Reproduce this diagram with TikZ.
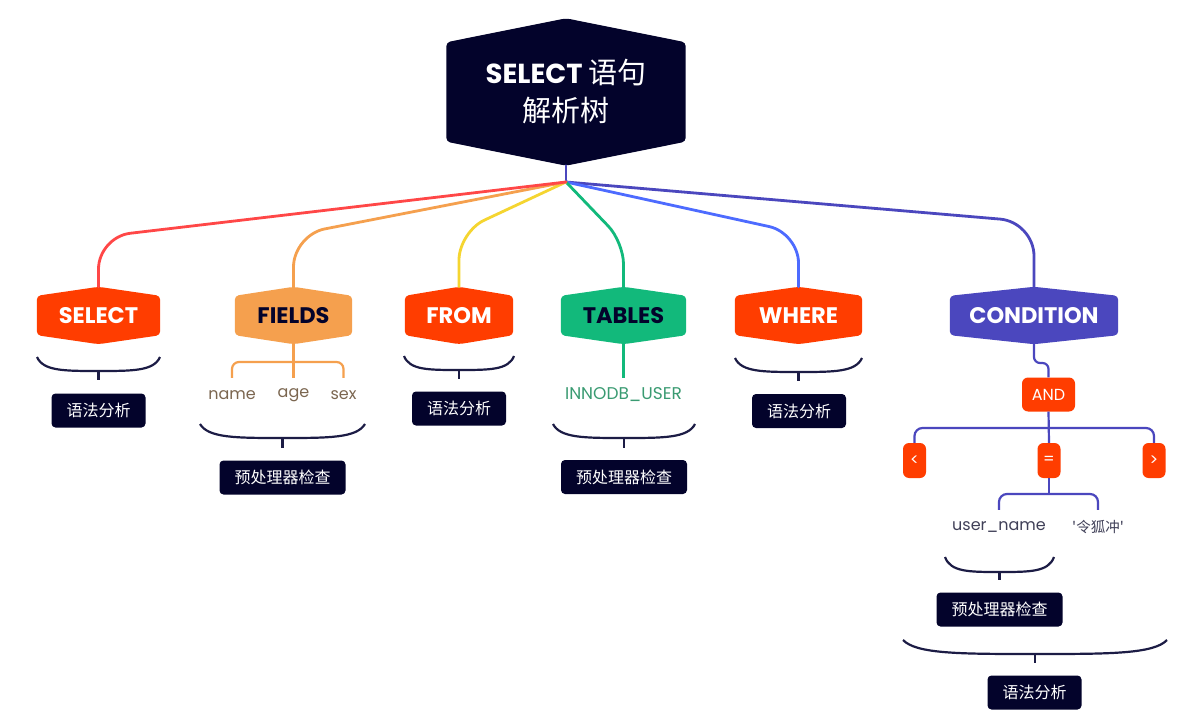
\documentclass[tikz,border=0pt]{standalone}
\usepackage{fontspec}
\setmainfont{Poppins}
\newfontfamily\cjk{Noto Sans CJK SC}
\usetikzlibrary{backgrounds}
\definecolor{navy}{HTML}{03032B}
\definecolor{nred}{HTML}{FF3D00}
\definecolor{norange}{HTML}{F5A04E}
\definecolor{ngreen}{HTML}{12B97B}
\definecolor{nindigo}{HTML}{4B47BE}
\definecolor{ered}{HTML}{FF4747}
\definecolor{eyellow}{HTML}{F5D530}
\definecolor{eblue}{HTML}{4D6BFF}
\definecolor{brn}{HTML}{7B6650}
\definecolor{leafgreen}{HTML}{3A9B72}
\definecolor{leafgrey}{HTML}{404058}
\definecolor{smilec}{HTML}{1C1C45}
\newcommand\hexfill[3]{%
  \begin{scope}[on background layer]
    \fill[#2, rounded corners=4pt] (#1.north west) -- ([yshift=#3]#1.north) -- (#1.north east) -- (#1.south east) -- ([yshift=-#3]#1.south) -- (#1.south west) -- cycle;
  \end{scope}}
% x1 x2 ytop ybot tickend
\newcommand\smilearc[5]{%
  \draw[smilestyle] (#1,#3) .. controls ({#1+0.05*(#2-#1)},#4) and ({#1+0.22*(#2-#1)},#4) .. ({(#1+#2)/2},#4)
     .. controls ({#2-0.22*(#2-#1)},#4) and ({#2-0.05*(#2-#1)},#4) .. (#2,#3);
  \draw[smilestyle] ({(#1+#2)/2},#4) -- ({(#1+#2)/2},#5);}
\begin{document}
\begin{tikzpicture}[x=1pt,y=-1pt,
  lvl/.style={minimum height=39pt, inner sep=0pt, font=\bfseries\fontsize{22.5}{22.5}\selectfont, text=white},
  lbl/.style={fill=navy, rounded corners=4pt, text=white, font=\cjk\fontsize{16}{16}\selectfont, minimum height=34pt, inner xsep=15pt, inner ysep=0pt},
  leaf/.style={inner sep=0pt, minimum height=34pt, font=\fontsize{16}{16}\selectfont},
  redbox/.style={fill=nred, rounded corners=6pt, text=white, font=\fontsize{16}{16}\selectfont, inner sep=0pt},
  eline/.style={line width=2.8pt, line cap=round},
  bline/.style={line width=2.2pt},
  smilestyle/.style={draw=smilec, line width=2.2pt}]
\begin{scope}[on background layer]
\fill[white] (0,0) rectangle (1196,714);
\end{scope}
\useasboundingbox (0,0) rectangle (1196,714);

% root
\node[font=\bfseries\fontsize{27.5}{38}\selectfont, text=white, minimum width=239pt, minimum height=99pt, inner sep=0pt, align=center] (root) at (566,92)
  {SELECT {\cjk\mdseries\fontsize{29}{38}\selectfont 语句}\\{\cjk\mdseries\fontsize{29}{38}\selectfont 解析树}};
\hexfill{root}{navy}{24pt}

% level 1
\node[lvl, minimum width=123pt] (sel) at (98.5,315.5) {SELECT};
\node[lvl, minimum width=117pt, text=navy] (fld) at (293.5,315.5) {FIELDS};
\node[lvl, minimum width=108pt] (frm) at (459,315.5) {FROM};
\node[lvl, minimum width=125pt, text=navy] (tbl) at (623.5,315.5) {TABLES};
\node[lvl, minimum width=127pt] (whr) at (798.5,315.5) {WHERE};
\node[lvl, minimum width=168pt] (cnd) at (1034,315.5) {CONDITION};
\hexfill{sel}{nred}{9pt}
\hexfill{fld}{norange}{9pt}
\hexfill{frm}{nred}{9pt}
\hexfill{tbl}{ngreen}{9pt}
\hexfill{whr}{nred}{9pt}
\hexfill{cnd}{nindigo}{9pt}

% edges from root
\coordinate (hub) at (566,182);
\draw[eline, nindigo] ([yshift=-24pt]root.south) -- (hub);
\draw[eline, nindigo, rounded corners=34pt] (hub) -- (1034,222) -- ([yshift=9pt]cnd.north);
\draw[eline, eblue, rounded corners=30pt] (hub) -- (798.5,233) -- ([yshift=9pt]whr.north);
\draw[eline, ngreen, rounded corners=22pt] (hub) -- (623.5,242) -- ([yshift=9pt]tbl.north);
\draw[eline, eyellow, rounded corners=28pt] (hub) -- (459,232) -- ([yshift=9pt]frm.north);
\draw[eline, norange, rounded corners=32pt] (hub) -- (293.5,235) -- ([yshift=9pt]fld.north);
\draw[eline, ered, rounded corners=32pt] (hub) -- (98.5,237) -- ([yshift=9pt]sel.north);

% SELECT
\smilearc{37}{160}{357}{371}{380}
\node[lbl] (l1) at (98.5,410.5) {语法分析};

% FIELDS
\node[leaf, text=brn] (fname) at (232,395) {name};
\node[leaf, text=brn] (fage) at (293.5,395) {age};
\node[leaf, text=brn] (fsex) at (343.5,395) {sex};
\coordinate (fj) at (293.5,362);
\draw[bline, norange] ([yshift=-9pt]fld.south) -- (fage.north);
\draw[bline, norange, rounded corners=7pt] (fname.north) |- (fj) -| (fsex.north);
\smilearc{200}{365}{424}{438}{448}
\node[lbl] (l2) at (282.5,477.5) {预处理器检查};

% FROM
\smilearc{404}{514}{356}{370}{379}
\node[lbl] (l3) at (459,408.5) {语法分析};

% TABLES
\node[leaf, text=leafgreen, font=\fontsize{17}{17}\selectfont] (inno) at (623.5,395) {INNODB\_USER};
\draw[bline, ngreen] ([yshift=-9pt]tbl.south) -- (inno.north);
\smilearc{553}{695}{424}{438}{448}
\node[lbl] (l4) at (624,477) {预处理器检查};

% WHERE
\smilearc{735}{862}{358}{372}{381}
\node[lbl] (l5) at (799,411) {语法分析};

% CONDITION
\node[redbox, minimum width=53pt, minimum height=34pt] (and) at (1048.5,394.5) {AND};
\draw[bline, nindigo, rounded corners=6pt] ([yshift=-9pt]cnd.south) -- (1034,363) -- (1048.5,363) -- (and.north);
\node[redbox, minimum width=23pt, minimum height=35pt] (lt) at (914.5,460.5) {<};
\node[redbox, minimum width=23pt, minimum height=35pt] (eq) at (1049,460.5) {=};
\node[redbox, minimum width=23pt, minimum height=35pt] (gt) at (1154,460.5) {>};
\coordinate (aj) at (1048.5,428);
\draw[bline, nindigo] (and.south) -- (eq.north);
\draw[bline, nindigo, rounded corners=8pt] (lt.north) |- (aj) -| (gt.north);

\node[leaf, text=leafgrey] (uname) at (999,527) {user\_name};
\node[leaf, text=leafgrey, font=\cjk\fontsize{14.5}{14.5}\selectfont] (uval) at (1098,527) {'令狐冲'};
\coordinate (ej) at (1049,494);
\draw[bline, nindigo] (eq.south) -- (ej);
\draw[bline, nindigo, rounded corners=8pt] (uname.north) |- (ej) -| (uval.north);

\smilearc{945}{1054}{557}{572}{580}
\node[lbl] (l6) at (999.5,609.5) {预处理器检查};
\smilearc{903}{1167}{640}{654}{663}
\node[lbl] (l7) at (1034.5,692.5) {语法分析};
\end{tikzpicture}
\end{document}
